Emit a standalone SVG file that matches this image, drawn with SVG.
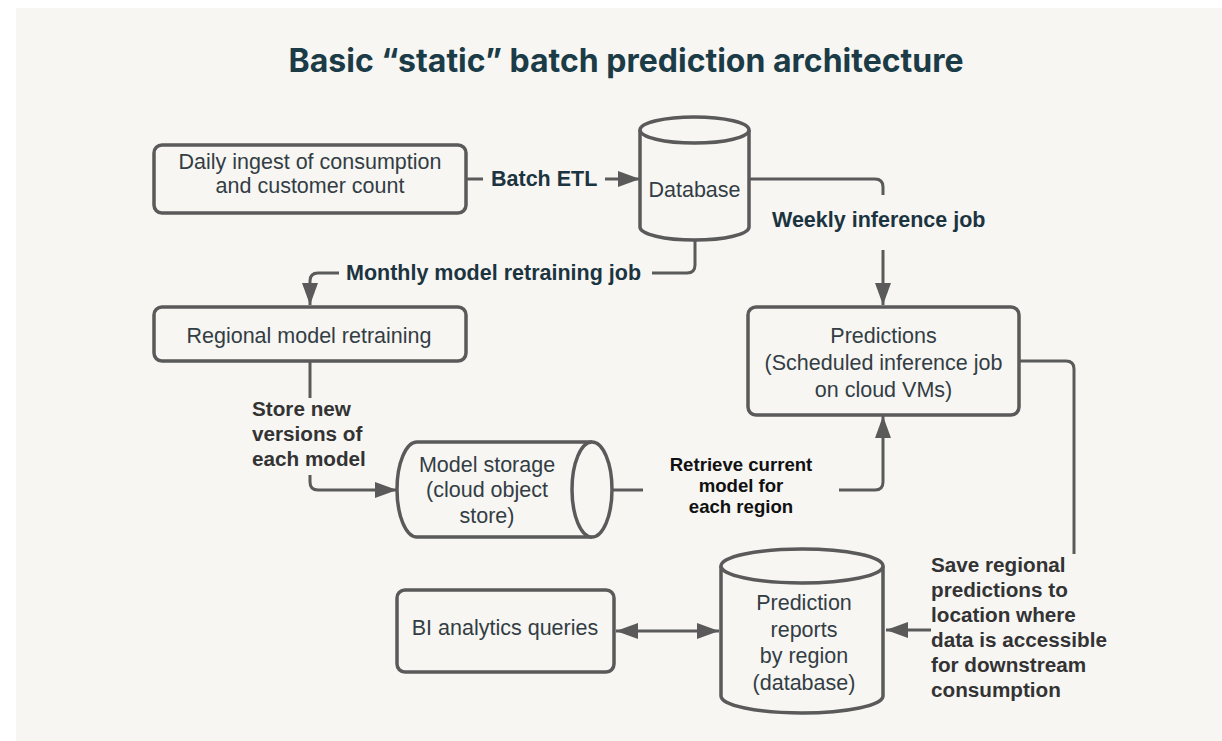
<svg xmlns="http://www.w3.org/2000/svg" width="1222" height="741" viewBox="0 0 1222 741">
  <defs>
    <marker id="arrow" viewBox="0 0 22 16" refX="22" refY="8" markerWidth="22" markerHeight="16" markerUnits="userSpaceOnUse" orient="auto-start-reverse">
      <path d="M0,0 L22,8 L0,16 Z" fill="#5a5a5a"/>
    </marker>
    <style>
      .shape { fill: #f7f6f3; stroke: #5a5a5a; stroke-width: 3.5; }
      .wire { fill: none; stroke: #5a5a5a; stroke-width: 3; }
      .node { font-family: "Liberation Sans", Arial, sans-serif; font-size: 21.5px; fill: #333d44; text-anchor: middle; }
      .lbl { font-family: "Liberation Sans", Arial, sans-serif; font-weight: bold; font-size: 21.5px; fill: #1c3440; }
      .lbl2 { font-family: "Liberation Sans", Arial, sans-serif; font-weight: bold; font-size: 20.7px; fill: #333333; }
      .lbl3 { font-family: "Liberation Sans", Arial, sans-serif; font-weight: bold; font-size: 18.6px; fill: #111111; text-anchor: middle; }
      .title { font-family: "Inter", "Liberation Sans", sans-serif; font-weight: bold; font-size: 32px; fill: #1b3c47; text-anchor: middle; }
    </style>
  </defs>

  <rect x="0" y="0" width="1222" height="741" fill="#ffffff"/>
  <rect x="16" y="8" width="1206" height="733" fill="#f7f6f3"/>

  <text class="title" x="626" y="72">Basic “static” batch prediction architecture</text>

  <!-- connectors -->
  <g id="connectors">
    <!-- Batch ETL -->
    <path class="wire" d="M466,179 H483"/>
    <path class="wire" d="M605,179 H640" marker-end="url(#arrow)"/>
    <!-- Weekly inference job -->
    <path class="wire" d="M749,179 H875 Q883,179 883,187 V195"/>
    <path class="wire" d="M883,250 V305" marker-end="url(#arrow)"/>
    <!-- Monthly model retraining job -->
    <path class="wire" d="M695,240 V265 Q695,273 687,273 H652"/>
    <path class="wire" d="M339,273 H318 Q310,273 310,281 V305" marker-end="url(#arrow)"/>
    <!-- Store new versions -->
    <path class="wire" d="M310,361 V398"/>
    <path class="wire" d="M310,475 V482 Q310,490 318,490 H397" marker-end="url(#arrow)"/>
    <!-- Retrieve current model -->
    <path class="wire" d="M613,490 H643"/>
    <path class="wire" d="M839,490 H875 Q883,490 883,482 V416" marker-end="url(#arrow)"/>
    <!-- Save regional predictions -->
    <path class="wire" d="M1019,361 H1066 Q1074,361 1074,369 V554"/>
    <path class="wire" d="M931,630 H886" marker-end="url(#arrow)"/>
    <!-- BI queries <-> reports -->
    <path class="wire" d="M616,631 H719" marker-start="url(#arrow)" marker-end="url(#arrow)"/>
  </g>

  <g id="connector-labels">
    <text class="lbl" x="491" y="186">Batch ETL</text>
    <text class="lbl" x="772" y="227">Weekly inference job</text>
    <text class="lbl" x="346" y="280">Monthly model retraining job</text>
    <text class="lbl2" x="252" y="416">Store new</text>
    <text class="lbl2" x="252" y="441">versions of</text>
    <text class="lbl2" x="252" y="466">each model</text>
    <text class="lbl3" x="741" y="471">Retrieve current</text>
    <text class="lbl3" x="741" y="492">model for</text>
    <text class="lbl3" x="741" y="513">each region</text>
    <text class="lbl2" x="931" y="572">Save regional</text>
    <text class="lbl2" x="931" y="597">predictions to</text>
    <text class="lbl2" x="931" y="622">location where</text>
    <text class="lbl2" x="931" y="647">data is accessible</text>
    <text class="lbl2" x="931" y="672">for downstream</text>
    <text class="lbl2" x="931" y="697">consumption</text>
  </g>

  <g id="daily-ingest">
    <rect class="shape" x="154" y="145" width="312" height="68" rx="8"/>
    <text class="node" x="310" y="169">Daily ingest of consumption</text>
    <text class="node" x="310" y="193">and customer count</text>
  </g>

  <g id="database">
    <path class="shape" d="M640,130 V227 A54.5,13 0 0 0 749,227 V130"/>
    <ellipse class="shape" cx="694.5" cy="130" rx="54.5" ry="13"/>
    <text class="node" x="694.5" y="197">Database</text>
  </g>

  <g id="regional-retraining">
    <rect class="shape" x="154" y="307" width="312" height="54" rx="8"/>
    <text class="node" x="309" y="343">Regional model retraining</text>
  </g>

  <g id="predictions">
    <rect class="shape" x="748" y="307" width="271" height="108" rx="8"/>
    <text class="node" x="883.5" y="343">Predictions</text>
    <text class="node" x="883.5" y="370">(Scheduled inference job</text>
    <text class="node" x="883.5" y="397">on cloud VMs)</text>
  </g>

  <g id="model-storage">
    <path class="shape" d="M592,442 H417 A20,47.5 0 0 0 417,537 H592"/>
    <ellipse class="shape" cx="592" cy="489.5" rx="20" ry="47.5"/>
    <text class="node" x="487" y="472">Model storage</text>
    <text class="node" x="487" y="497">(cloud object</text>
    <text class="node" x="487" y="523">store)</text>
  </g>

  <g id="bi-queries">
    <rect class="shape" x="397" y="590" width="217" height="82" rx="8"/>
    <text class="node" x="505" y="635">BI analytics queries</text>
  </g>

  <g id="prediction-reports">
    <path class="shape" d="M721,566 V696 A81,17 0 0 0 883,696 V566"/>
    <ellipse class="shape" cx="802" cy="566" rx="81" ry="17"/>
    <text class="node" x="804" y="610">Prediction</text>
    <text class="node" x="804" y="637">reports</text>
    <text class="node" x="804" y="663">by region</text>
    <text class="node" x="804" y="690">(database)</text>
  </g>
</svg>
